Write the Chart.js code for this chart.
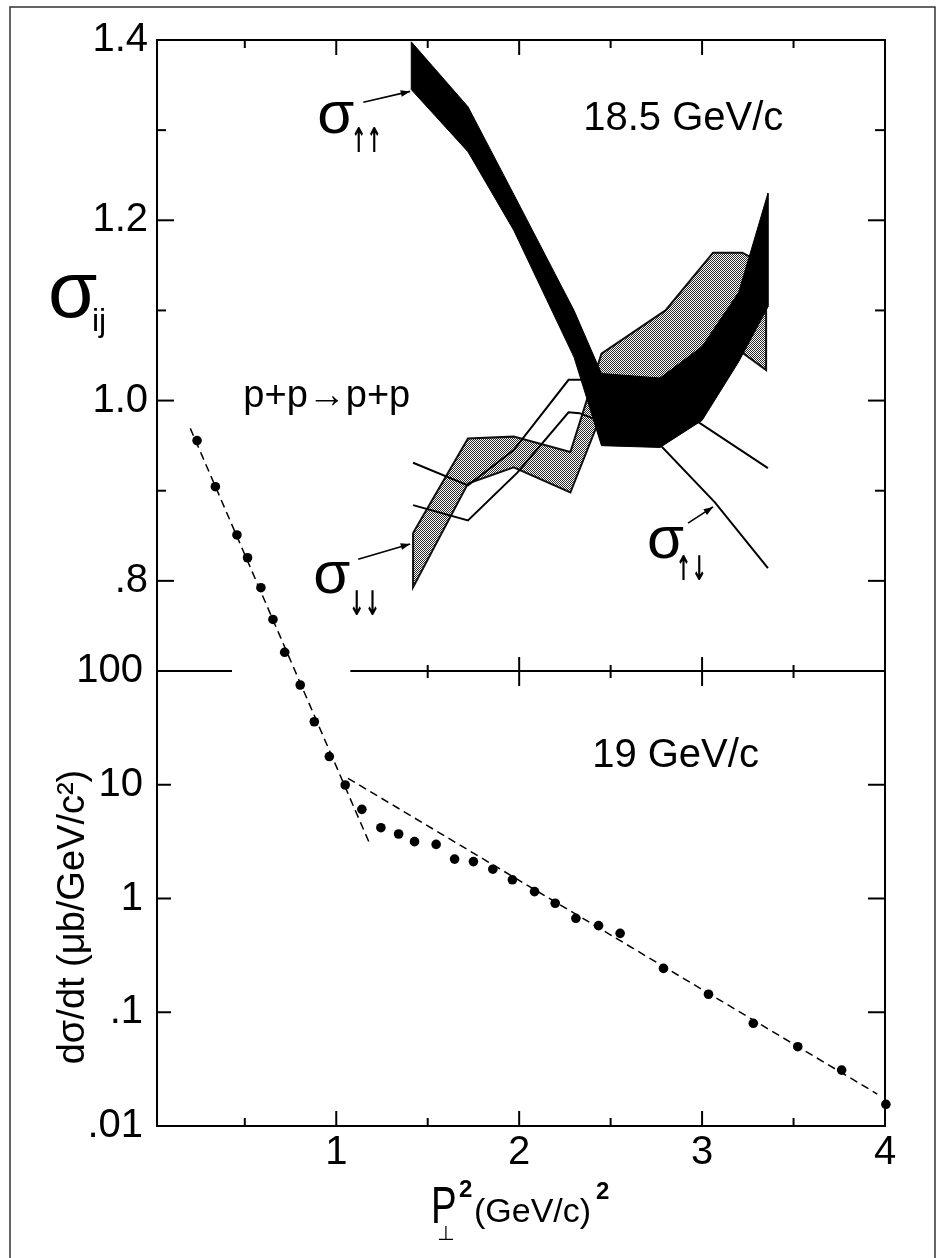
<!DOCTYPE html>
<html><head><meta charset="utf-8">
<script src="https://cdn.jsdelivr.net/npm/chart.js@4.4.0/dist/chart.umd.min.js"></script>
<style>html,body{margin:0;padding:0;background:#fff;}canvas{display:block;}</style>
</head><body>
<canvas id="c" width="942" height="1258"></canvas>
<script>
// ---------------- DATA ----------------
// x axis (P_perp^2, (GeV/c)^2)
const xTickValues = [1, 2, 3, 4];
const xTickLabels = ['1', '2', '3', '4'];
const xTickMarks = [0.5, 1, 1.5, 2, 2.5, 3, 3.5];
// upper panel: sigma_ij
const sigmaTickValues = [0.8, 1.0, 1.2, 1.4];
const sigmaTickLabels = ['.8', '1.0', '1.2', '1.4'];
const sigmaTickMarks = [1.3, 1.2, 1.1, 1.0, 0.9, 0.8];
// lower panel: dsigma/dt (log)
const dsdtTickValues = [0.01, 0.1, 1, 10, 100];
const dsdtTickLabels = ['.01', '.1', '1', '10', '100'];
const dsdtTickMarks = [10, 1, 0.1];

// sigma up-up band (black)
const upupP2   = [1.41, 1.72, 1.97, 2.30, 2.45, 2.77, 3.00, 3.20, 3.36];
const upupHigh = [1.398, 1.326, 1.229, 1.100, 1.030, 1.025, 1.060, 1.120, 1.230];
const upupLow  = [1.345, 1.276, 1.189, 1.048, 0.950, 0.948, 0.978, 1.043, 1.104];
// sigma down-down band (stippled)
const dndnP2   = [1.42, 1.72, 1.97, 2.28, 2.45, 2.80, 3.06, 3.22, 3.35];
const dndnHigh = [0.853, 0.958, 0.960, 0.943, 1.052, 1.100, 1.164, 1.164, 1.150];
const dndnLow  = [0.793, 0.908, 0.926, 0.898, 0.985, 1.000, 1.020, 1.053, 1.034];
// sigma up-down band (two outline curves)
const updnUpperP2 = [1.42, 1.72, 1.97, 2.27, 2.35, 2.98, 3.36];
const updnUpper   = [0.931, 0.906, 0.945, 1.023, 1.023, 0.976, 0.925];
const updnLowerP2 = [1.42, 1.72, 1.99, 2.27, 2.33, 2.77, 3.07, 3.36];
const updnLower   = [0.884, 0.867, 0.920, 0.987, 0.986, 0.951, 0.887, 0.814];

// lower panel: d sigma / dt points (microbarn / GeV^2)
const dsdtP2 = [0.239, 0.339, 0.457, 0.515, 0.588, 0.654, 0.718, 0.803, 0.880, 0.962,
                1.049, 1.140, 1.244, 1.341, 1.428, 1.546, 1.647, 1.750, 1.856, 1.963,
                2.084, 2.197, 2.310, 2.434, 2.552, 2.789, 3.035, 3.280, 3.523, 3.763, 4.005];
const dsdtValues = [10600, 4170, 1570, 990, 540, 284, 146, 75.3, 35.8, 17.7,
                    9.95, 6.08, 4.19, 3.69, 3.16, 2.99, 2.22, 2.11, 1.81, 1.46,
                    1.15, 0.908, 0.670, 0.577, 0.494, 0.243, 0.144, 0.080, 0.0498, 0.0310, 0.0155];
// dashed exponential fits
const fitSteepP2 = [0.202, 1.182];
const fitSteep   = [13580, 3.05];
const fitFlatP2  = [1.064, 3.958];
const fitFlat    = [11.4, 0.0191];

// axis ranges
const xMin = 0.02, xMax = 4.0;
const sigmaMin = 0.7, sigmaMax = 1.4;
const dsdtMin = 0.01, dsdtMax = 100;
const gapFrom = 0.43, gapTo = 1.077; // break in the middle axis line

// ---------------- HELPERS ----------------
const pts = (xs, ys) => xs.map((x, i) => ({x, y: ys[i]}));
function band(xs, hi, lo) {
  const p = pts(xs, hi);
  for (let i = xs.length - 1; i >= 0; i--) p.push({x: xs[i], y: lo[i]});
  p.push({x: xs[0], y: hi[0]});
  return p;
}
const canvas = document.getElementById('c');
const c2d = canvas.getContext('2d');
const tile = document.createElement('canvas');
tile.width = 2; tile.height = 2;
const tg = tile.getContext('2d');
tg.fillStyle = '#ffffff'; tg.fillRect(0, 0, 2, 2);
tg.fillStyle = '#2a2a2a'; tg.fillRect(0, 0, 1, 1); tg.fillRect(1, 1, 1, 1);
const stipple = c2d.createPattern(tile, 'repeat');

const SANS = '"Liberation Sans", Arial, sans-serif';

// ---------------- DECORATION PLUGIN ----------------
const decor = {
  id: 'decor',
  afterDraw(chart) {
    const {ctx, chartArea: ca, scales} = chart;
    const X = scales.x, YT = scales.yTop, YB = scales.yBot;
    const ym = YB.getPixelForValue(dsdtMax);
    const line = (x1, y1, x2, y2) => { ctx.beginPath(); ctx.moveTo(x1, y1); ctx.lineTo(x2, y2); ctx.stroke(); };
    ctx.save();
    // outer frame
    ctx.strokeStyle = '#333'; ctx.lineWidth = 1.5;
    ctx.strokeRect(10, 7, 925, 1300);
    // axes
    ctx.strokeStyle = '#000'; ctx.lineWidth = 2;
    line(ca.left, ca.top, ca.right, ca.top);
    line(ca.left, ca.bottom, ca.right, ca.bottom);
    line(ca.left, ca.top - 1, ca.left, ca.bottom + 1);
    line(ca.right, ca.top - 1, ca.right, ca.bottom + 1);
    line(ca.left, ym, X.getPixelForValue(gapFrom), ym);
    line(X.getPixelForValue(gapTo), ym, ca.right, ym);
    // x tick marks
    xTickMarks.forEach(v => {
      const px = X.getPixelForValue(v);
      const major = Number.isInteger(v);
      line(px, ca.top, px, ca.top + (major ? 15 : 8));
      line(px, ca.bottom, px, ca.bottom - (major ? 15 : 8));
      if (v > gapTo) line(px, ym - (major ? 14 : 6), px, ym + (major ? 15 : 7));
    });
    // sigma tick marks
    sigmaTickMarks.forEach(v => {
      const py = YT.getPixelForValue(v);
      const major = Math.abs(v * 10 % 2) < 1e-6 || Math.abs(v * 10 % 2 - 2) < 1e-6;
      line(ca.left, py, ca.left + (major ? 17 : 9), py);
      line(ca.right, py, ca.right - (major ? 17 : 10), py);
    });
    // dsdt tick marks
    dsdtTickMarks.forEach(v => {
      const py = YB.getPixelForValue(v);
      line(ca.left, py, ca.left + 14, py);
      line(ca.right, py, ca.right - 17, py);
    });

    // pointer arrows (data coordinates in the upper panel)
    const arrow = (xa, ya, xb, yb) => {
      const x1 = X.getPixelForValue(xa), y1 = YT.getPixelForValue(ya);
      const x2 = X.getPixelForValue(xb), y2 = YT.getPixelForValue(yb);
      ctx.lineWidth = 1.6;
      line(x1, y1, x2, y2);
      const a = Math.atan2(y2 - y1, x2 - x1), L = 10, w = 0.35;
      ctx.beginPath();
      ctx.moveTo(x2, y2);
      ctx.lineTo(x2 - L * Math.cos(a - w), y2 - L * Math.sin(a - w));
      ctx.lineTo(x2 - L * Math.cos(a + w), y2 - L * Math.sin(a + w));
      ctx.closePath(); ctx.fillStyle = '#000'; ctx.fill();
    };
    arrow(1.148, 1.331, 1.404, 1.343);
    arrow(1.120, 0.824, 1.404, 0.841);
    arrow(2.923, 0.864, 3.060, 0.882);

    // texts
    ctx.fillStyle = '#000'; ctx.textBaseline = 'alphabetic'; ctx.textAlign = 'left';
    const txt = (s, px, py, font, sx) => {
      ctx.save(); ctx.font = font; ctx.translate(px, py); ctx.scale(sx || 1, 1);
      ctx.fillText(s, 0, 0); ctx.restore();
    };
    const tTop = (s, xv, yv, font, sx) => txt(s, X.getPixelForValue(xv), YT.getPixelForValue(yv), font, sx);
    const tBot = (s, xv, yv, font, sx) => txt(s, X.getPixelForValue(xv), YB.getPixelForValue(yv), font, sx);
    tTop('18.5 GeV/c', 2.350, 1.300, '40px ' + SANS);
    tTop('p+p\u2192p+p', 0.492, 0.993, '38px ' + SANS);
    tBot('19 GeV/c', 2.399, 14.3, '40px ' + SANS);
    // sigma labels with spin arrows
    const ARW = 'bold 34px "DejaVu Sans"';
    tTop('\u03C3', 0.896, 1.297, '60px ' + SANS);
    tTop('\u2191\u2191', 1.080, 1.276, ARW, 0.55);
    tTop('\u03C3', 0.874, 0.787, '60px ' + SANS);
    tTop('\u2193\u2193', 1.070, 0.762, ARW, 0.55);
    tTop('\u03C3', 2.699, 0.825, '60px ' + SANS);
    tTop('\u2191\u2193', 2.856, 0.801, ARW, 0.55);

    // y title of upper panel: sigma_ij
    txt('\u03C3', 48, 317, '80px ' + SANS);
    txt('ij', 92, 331, '32px ' + SANS);

    // y title of lower panel (rotated)
    ctx.save();
    ctx.translate(84, 917);
    ctx.rotate(-Math.PI / 2);
    ctx.textAlign = 'center';
    ctx.font = '38px ' + SANS;
    ctx.fillText('d\u03C3/dt (\u03BCb/GeV/c\u00B2)', 0, 0);
    ctx.restore();

    // x title
    ctx.textAlign = 'left';
    txt('P', 431, 1223, '52px ' + SANS, 0.74);
    txt('\u22A5', 437, 1240, '20px "DejaVu Sans"');
    txt('2', 459, 1197, 'bold 24px ' + SANS);
    txt('(GeV/c)', 474, 1222, '34px ' + SANS);
    txt('2', 596, 1199, 'bold 24px ' + SANS);
    ctx.restore();
  }
};

// ---------------- CHART ----------------
const labelFrom = (vals, labs) => (v) => { const i = vals.findIndex(t => Math.abs(t - v) < 1e-9); return i >= 0 ? labs[i] : ''; };

new Chart(canvas, {
  type: 'line',
  data: {
    datasets: [
      { label: 'σ↑↑', data: band(upupP2, upupHigh, upupLow), yAxisID: 'yTop',
        fill: 'shape', backgroundColor: '#000', borderColor: '#000', borderWidth: 1,
        borderJoinStyle: 'miter', pointRadius: 0, tension: 0, order: 0 },
      { label: 'σ↑↓ upper', data: pts(updnUpperP2, updnUpper), yAxisID: 'yTop',
        fill: false, borderColor: '#000', borderWidth: 2, pointRadius: 0, tension: 0, order: 1 },
      { label: 'σ↑↓ lower', data: pts(updnLowerP2, updnLower), yAxisID: 'yTop',
        fill: false, borderColor: '#000', borderWidth: 2, pointRadius: 0, tension: 0, order: 1 },
      { label: 'σ↓↓', data: band(dndnP2, dndnHigh, dndnLow), yAxisID: 'yTop',
        fill: 'shape', backgroundColor: stipple, borderColor: '#111', borderWidth: 2,
        borderJoinStyle: 'miter', pointRadius: 0, tension: 0, order: 2 },
      { label: 'dσ/dt', data: pts(dsdtP2, dsdtValues), yAxisID: 'yBot', showLine: false,
        pointRadius: 4.8, pointBackgroundColor: '#000', pointBorderColor: '#000', pointBorderWidth: 0,
        clip: false, order: 0 },
      { label: 'fit 1', data: pts(fitSteepP2, fitSteep), yAxisID: 'yBot', fill: false, clip: false,
        borderColor: '#000', borderWidth: 1.5, borderDash: [8, 5], pointRadius: 0, order: 1 },
      { label: 'fit 2', data: pts(fitFlatP2, fitFlat), yAxisID: 'yBot', fill: false, clip: false,
        borderColor: '#000', borderWidth: 1.5, borderDash: [8, 5], pointRadius: 0, order: 1 }
    ]
  },
  options: {
    responsive: false, animation: false, devicePixelRatio: 1,
    layout: { padding: { left: 10, top: 40, right: 57, bottom: 0 } },
    plugins: { legend: { display: false }, tooltip: { enabled: false } },
    scales: {
      x: {
        type: 'linear', position: 'bottom', min: xMin, max: xMax,
        grid: { display: false, drawTicks: false }, border: { display: false },
        afterBuildTicks: s => { s.ticks = xTickValues.map(v => ({value: v})); },
        afterFit: s => { s.height = 132; },
        ticks: { autoSkip: false, maxRotation: 0, padding: 3, color: '#000',
                 font: { family: SANS, size: 40 }, callback: labelFrom(xTickValues, xTickLabels) }
      },
      yBot: {
        type: 'logarithmic', position: 'left', stack: 'v', stackWeight: 455,
        min: dsdtMin, max: dsdtMax,
        grid: { display: false, drawTicks: false }, border: { display: false },
        afterBuildTicks: s => { s.ticks = dsdtTickValues.map(v => ({value: v})); },
        afterFit: s => { s.width = 147; },
        ticks: { autoSkip: false, padding: 14, color: '#000',
                 font: { family: SANS, size: 40 }, callback: labelFrom(dsdtTickValues, dsdtTickLabels) }
      },
      yTop: {
        type: 'linear', position: 'left', stack: 'v', stackWeight: 631,
        min: sigmaMin, max: sigmaMax,
        grid: { display: false, drawTicks: false }, border: { display: false },
        afterBuildTicks: s => { s.ticks = sigmaTickValues.map(v => ({value: v})); },
        afterFit: s => { s.width = 147; },
        ticks: { autoSkip: false, padding: 9, color: '#000',
                 font: { family: SANS, size: 40 }, callback: labelFrom(sigmaTickValues, sigmaTickLabels) }
      }
    }
  },
  plugins: [decor]
});
</script>
</body></html>
